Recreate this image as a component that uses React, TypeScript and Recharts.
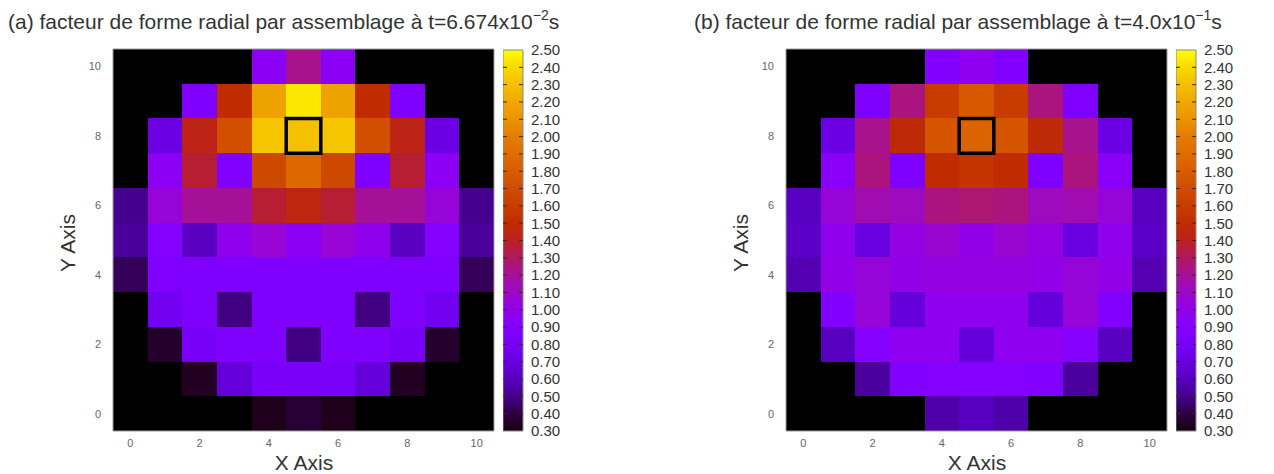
import React from 'react';
import { ScatterChart, Scatter, XAxis, YAxis, ReferenceArea, ReferenceLine } from 'recharts';

// ---- data ----
const xCells = [0, 1, 2, 3, 4, 5, 6, 7, 8, 9, 10];
const yRows = [10, 9, 8, 7, 6, 5, 4, 3, 2, 1, 0]; // rows listed top to bottom
const axisTicks = [0, 2, 4, 6, 8, 10];
const colorbarTicks = [0.3, 0.4, 0.5, 0.6, 0.7, 0.8, 0.9, 1.0, 1.1, 1.2, 1.3, 1.4, 1.5, 1.6, 1.7, 1.8, 1.9, 2.0, 2.1, 2.2, 2.3, 2.4, 2.5];
const hotCell = { x: 5, y: 8 };

const titleA = { main: '(a) facteur de forme radial par assemblage à t=6.674x10', exp: '−2', unit: 's' };
const titleB = { main: '(b) facteur de forme radial par assemblage à t=4.0x10', exp: '−1', unit: 's' };

// panel (a), rows y=10 .. y=0, null = no assembly
const panelA: (number | null)[][] = [
  [null, null, null, null, 0.95, 1.22, 0.95, null, null, null, null],
  [null, null, 0.86, 1.5, 2.17, 2.44, 2.17, 1.5, 0.86, null, null],
  [null, 0.72, 1.43, 1.72, 2.32, 2.3, 2.32, 1.72, 1.43, 0.72, null],
  [null, 0.95, 1.37, 0.86, 1.68, 1.87, 1.68, 0.86, 1.37, 0.95, null],
  [0.5, 1.05, 1.2, 1.2, 1.37, 1.46, 1.37, 1.2, 1.2, 1.05, 0.5],
  [0.52, 0.9, 0.61, 0.98, 1.06, 0.95, 1.06, 0.98, 0.61, 0.9, 0.52],
  [0.43, 0.86, 0.86, 0.86, 0.86, 0.86, 0.86, 0.86, 0.86, 0.86, 0.43],
  [null, 0.77, 0.87, 0.48, 0.87, 0.87, 0.87, 0.48, 0.87, 0.77, null],
  [null, 0.36, 0.8, 0.86, 0.86, 0.48, 0.86, 0.86, 0.8, 0.36, null],
  [null, null, 0.34, 0.68, 0.82, 0.82, 0.82, 0.68, 0.34, null, null],
  [null, null, null, null, 0.32, 0.38, 0.32, null, null, null, null],
];

// panel (b)
const panelB: (number | null)[][] = [
  [null, null, null, null, 0.88, 0.97, 0.88, null, null, null, null],
  [null, null, 0.87, 1.25, 1.6, 1.78, 1.6, 1.25, 0.87, null, null],
  [null, 0.72, 1.22, 1.48, 1.75, 1.85, 1.75, 1.48, 1.22, 0.72, null],
  [null, 0.93, 1.25, 0.87, 1.5, 1.55, 1.5, 0.87, 1.25, 0.93, null],
  [0.6, 1.05, 1.15, 1.12, 1.25, 1.27, 1.25, 1.12, 1.15, 1.05, 0.6],
  [0.62, 0.98, 0.7, 1.02, 1.07, 1.0, 1.07, 1.02, 0.7, 0.98, 0.62],
  [0.57, 1.0, 1.05, 1.0, 1.02, 1.02, 1.02, 1.0, 1.05, 1.0, 0.57],
  [null, 0.88, 1.05, 0.68, 0.97, 0.97, 0.97, 0.68, 1.05, 0.88, null],
  [null, 0.6, 0.9, 0.97, 0.97, 0.68, 0.97, 0.97, 0.9, 0.6, null],
  [null, null, 0.53, 0.88, 0.9, 0.9, 0.9, 0.88, 0.53, null, null],
  [null, null, null, null, 0.55, 0.6, 0.55, null, null, null, null],
];

// ---- palette ----
const paletteStops: [number, string][] = [
  [0.3, '#1a0010'], [0.4, '#2c0040'], [0.5, '#460090'], [0.6, '#5800c0'],
  [0.7, '#6800e0'], [0.8, '#7800f8'], [0.9, '#8400ff'], [1.0, '#9200e8'],
  [1.1, '#9c08c8'], [1.2, '#a61098'], [1.3, '#b01860'], [1.4, '#bc2020'],
  [1.5, '#c02c00'], [1.6, '#c83c00'], [1.7, '#d04c00'], [1.8, '#d85c00'],
  [1.9, '#e06c00'], [2.0, '#e47c00'], [2.1, '#ea9400'], [2.2, '#f0a800'],
  [2.3, '#f4c000'], [2.4, '#f8d800'], [2.5, '#ffff00'],
];

function hexToRgb(h: string) {
  return [parseInt(h.slice(1, 3), 16), parseInt(h.slice(3, 5), 16), parseInt(h.slice(5, 7), 16)];
}
function colorFor(v: number) {
  if (v <= paletteStops[0][0]) return paletteStops[0][1];
  for (let i = 1; i < paletteStops.length; i++) {
    const [v1, c1] = paletteStops[i];
    const [v0, c0] = paletteStops[i - 1];
    if (v <= v1) {
      const t = (v - v0) / (v1 - v0);
      const a = hexToRgb(c0);
      const b = hexToRgb(c1);
      const r = a.map((x, k) => Math.round(x + (b[k] - x) * t));
      return `rgb(${r[0]},${r[1]},${r[2]})`;
    }
  }
  return paletteStops[paletteStops.length - 1][1];
}

const FONT = '"Liberation Sans", Arial, sans-serif';

function Heatmap({ grid, left }: { grid: (number | null)[][]; left: number }) {
  const cells: { x: number; y: number; v: number }[] = [];
  grid.forEach((row, ri) =>
    row.forEach((v, ci) => {
      if (v !== null) cells.push({ x: xCells[ci], y: yRows[ri], v });
    })
  );
  return (
    <div style={{ position: 'absolute', left, top: 0 }}>
      <ScatterChart width={500} height={474} margin={{ top: 49, right: 6, bottom: 13, left: 83 }}>
        <XAxis
          type="number"
          dataKey="x"
          domain={[-0.5, 10.5]}
          ticks={axisTicks}
          interval={0}
          allowDataOverflow
          tickLine={false}
          axisLine={false}
          height={30}
          tick={{ fontSize: 11, fill: '#666', fontFamily: FONT }}
        />
        <YAxis
          type="number"
          dataKey="y"
          domain={[-0.5, 10.5]}
          ticks={axisTicks}
          interval={0}
          allowDataOverflow
          tickLine={false}
          axisLine={false}
          width={30}
          tickMargin={6}
          tick={{ fontSize: 11, fill: '#666', fontFamily: FONT }}
        />
        <ReferenceArea x1={-0.5} x2={10.5} y1={-0.5} y2={10.5} fill="#000" fillOpacity={1} stroke="none" />
        {cells.map((c) => (
          <ReferenceArea
            key={`${c.x}-${c.y}`}
            x1={c.x - 0.5}
            x2={c.x + 0.5}
            y1={c.y - 0.5}
            y2={c.y + 0.5}
            shape={(p: any) => (
              <rect x={p.x} y={p.y} width={p.width} height={p.height} fill={colorFor(c.v)} shapeRendering="crispEdges" />
            )}
          />
        ))}
        <ReferenceArea
          x1={hotCell.x - 0.5}
          x2={hotCell.x + 0.5}
          y1={hotCell.y - 0.5}
          y2={hotCell.y + 0.5}
          fill="none"
          fillOpacity={0}
          stroke="#000"
          strokeWidth={3.5}
        />
        <ReferenceArea x1={-0.5} x2={10.5} y1={-0.5} y2={10.5} fill="none" fillOpacity={0} stroke="#9a9a9a" strokeWidth={1} />
        <Scatter data={cells} isAnimationActive={false} shape={() => <g />} />
      </ScatterChart>
    </div>
  );
}

function ColorBar({ left, id }: { left: number; id: string }) {
  const lo = colorbarTicks[0];
  const hi = colorbarTicks[colorbarTicks.length - 1];
  return (
    <div style={{ position: 'absolute', left, top: 0 }}>
      <ScatterChart width={75} height={474} margin={{ top: 50, right: 0, bottom: 43, left: 0 }}>
        <defs>
          <linearGradient id={id} x1="0" y1="1" x2="0" y2="0">
            {paletteStops.map(([v, c]) => (
              <stop key={v} offset={`${((v - lo) / (hi - lo)) * 100}%`} stopColor={c} />
            ))}
          </linearGradient>
        </defs>
        <XAxis type="number" dataKey="x" domain={[0, 1]} hide height={0} />
        <YAxis
          type="number"
          dataKey="y"
          orientation="right"
          domain={[lo, hi]}
          ticks={colorbarTicks}
          interval={0}
          allowDataOverflow
          tickLine={false}
          axisLine={false}
          width={55}
          tickFormatter={(v: number) => v.toFixed(2)}
          tick={{ fontSize: 15, fill: '#333', fontFamily: FONT }}
        />
        <ReferenceArea x1={0} x2={1} y1={lo} y2={hi} fill={`url(#${id})`} fillOpacity={1} stroke="none" />
        {colorbarTicks.slice(1, -1).map((t) => (
          <ReferenceLine key={t} y={t} stroke="#3a2a20" strokeWidth={1} strokeDasharray="4 12 4" />
        ))}
        <ReferenceArea x1={0} x2={1} y1={lo} y2={hi} fill="none" fillOpacity={0} stroke="#888" strokeWidth={1} />
        <Scatter data={[{ x: 0.5, y: 1 }]} isAnimationActive={false} shape={() => <g />} />
      </ScatterChart>
    </div>
  );
}

function Titles() {
  const t = (x: number, tt: typeof titleA) => (
    <text x={x} y={29} fontSize={21} fill="#333" fontFamily={FONT}>
      {tt.main}
      <tspan dy={-9} fontSize={14}>{tt.exp}</tspan>
      <tspan dy={9}>{tt.unit}</tspan>
    </text>
  );
  return (
    <svg width={1274} height={474} style={{ position: 'absolute', left: 0, top: 0, pointerEvents: 'none' }}>
      {t(8, titleA)}
      {t(694, titleB)}
      <text x={304} y={470} fontSize={21} fill="#333" fontFamily={FONT} textAnchor="middle">X Axis</text>
      <text x={977} y={470} fontSize={21} fill="#333" fontFamily={FONT} textAnchor="middle">X Axis</text>
      <text x={75} y={243} fontSize={21} fill="#333" fontFamily={FONT} textAnchor="middle" transform="rotate(-90 75 243)">Y Axis</text>
      <text x={748} y={243} fontSize={21} fill="#333" fontFamily={FONT} textAnchor="middle" transform="rotate(-90 748 243)">Y Axis</text>
    </svg>
  );
}

export default function App() {
  return (
    <div style={{ position: 'absolute', left: 0, top: 0, width: 1274, height: 474, background: '#fff', overflow: 'hidden' }}>
      <Heatmap grid={panelA} left={0} />
      <ColorBar left={503} id="cmapA" />
      <Heatmap grid={panelB} left={673} />
      <ColorBar left={1176} id="cmapB" />
      <Titles />
    </div>
  );
}
